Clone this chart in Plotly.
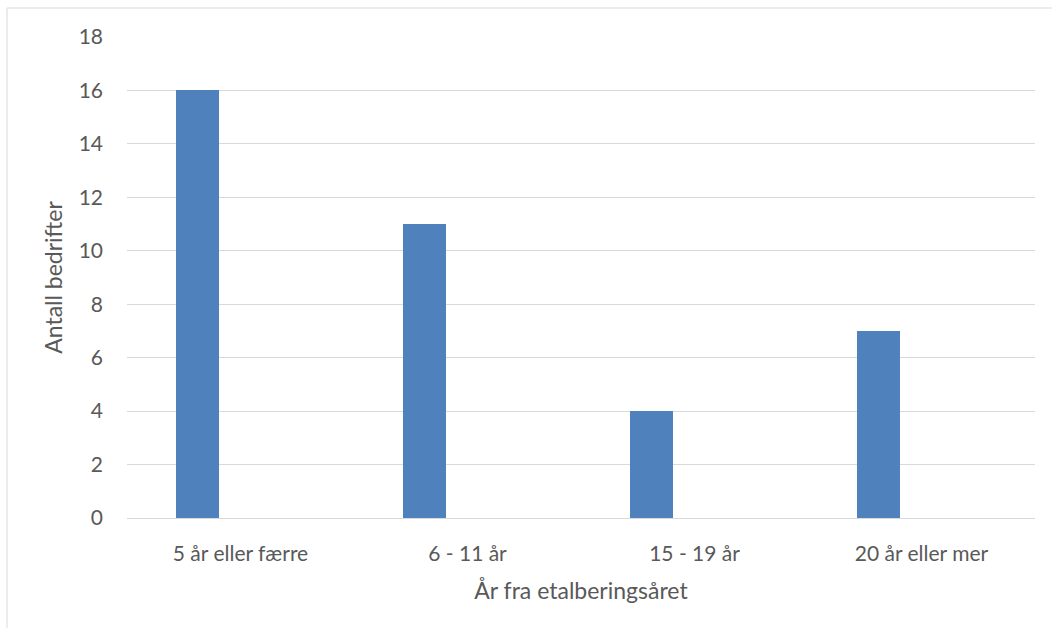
import plotly.graph_objects as go

categories = ["5 år eller færre", "6 - 11 år", "15 - 19 år", "20 år eller mer"]
values = [16, 11, 4, 7]
y_ticks = [0, 2, 4, 6, 8, 10, 12, 14, 16, 18]

FONT = "Lato, Carlito, Calibri, sans-serif"
TXT = "#595959"
GRID = "#D9D9D9"

L, R, T, B = 127, 17, 37, 110
W, H = 1052, 628
pw, ph = W - L - R, H - T - B
cat_w = pw / len(categories)

fig = go.Figure(go.Bar(
    x=categories, y=values,
    marker=dict(color="#4F81BD", line=dict(width=0)),
    width=43.3 / cat_w,
    offset=-0.5 + 48.7 / cat_w,
    showlegend=False,
))

fig.update_layout(
    width=W, height=H,
    margin=dict(l=L, r=R, t=T, b=B),
    paper_bgcolor="white", plot_bgcolor="white",
    font=dict(family=FONT, color=TXT, size=21),
    bargap=0,
    xaxis=dict(
        type="category", range=[-0.5, 3.5],
        showgrid=False, showline=False, zeroline=False,
        ticks="", ticklabelstandoff=21, tickfont=dict(size=21, color=TXT),
        title=dict(text="År fra etalberingsåret", font=dict(size=23, color=TXT), standoff=18),
    ),
    yaxis=dict(
        range=[0, 18], tickvals=y_ticks,
        showgrid=True, gridcolor=GRID, gridwidth=1,
        zeroline=True, zerolinecolor=GRID, zerolinewidth=1,
        showline=False, ticks="", ticklabelstandoff=23,
        tickfont=dict(size=21, color=TXT),
        title=dict(text="Antall bedrifter", font=dict(size=23, color=TXT), standoff=9),
    ),
    shapes=[dict(
        type="rect", xref="paper", yref="paper",
        x0=(7 - L) / pw, x1=(W + 10 - L) / pw,
        y0=-(H + 10 - T - ph) / ph, y1=(T + ph - 8) / ph,
        line=dict(color=GRID, width=1), fillcolor="rgba(0,0,0,0)", layer="below",
    )],
)

fig.write_html("out.html")
